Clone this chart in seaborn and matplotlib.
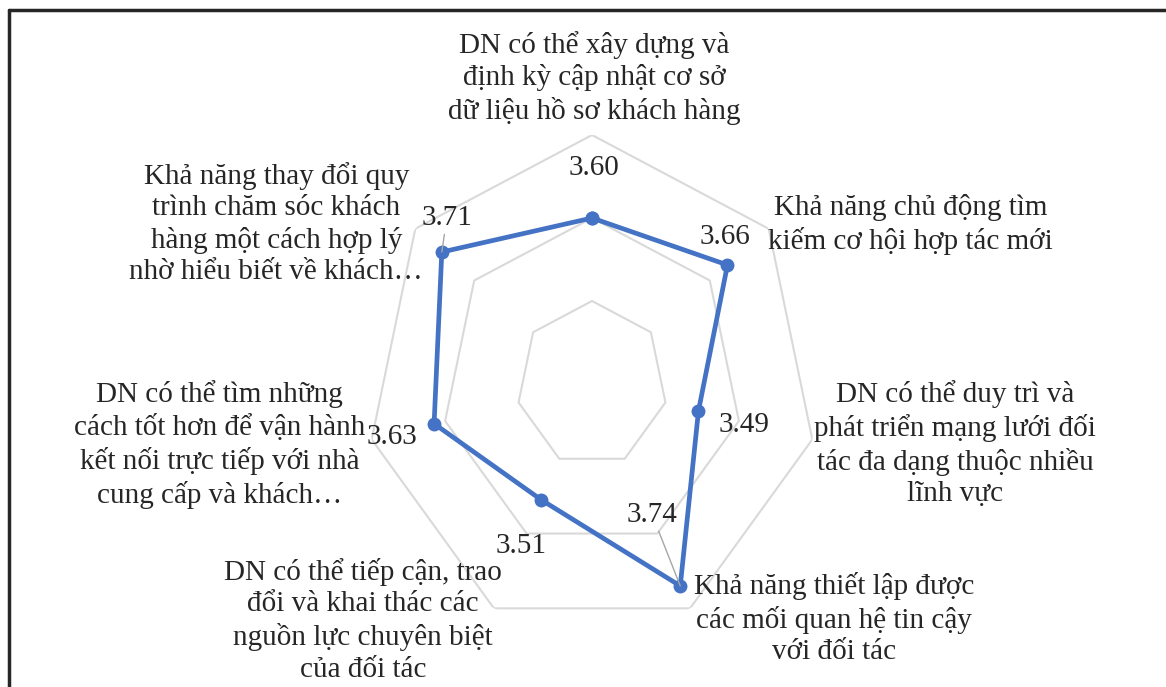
import numpy as np
import pandas as pd
import seaborn as sns
from matplotlib import pyplot as plt
from matplotlib.lines import Line2D

sns.set_theme(style="white")
plt.rcParams["font.family"] = ["Liberation Serif", "DejaVu Serif"]

categories = [
    "DN có thể xây dựng và\nđịnh kỳ cập nhật cơ sở\ndữ liệu hồ sơ khách hàng",
    "Khả năng chủ động tìm\nkiếm cơ hội hợp tác mới",
    "DN có thể duy trì và\nphát triển mạng lưới đối\ntác đa dạng thuộc nhiều\nlĩnh vực",
    "Khả năng thiết lập được\ncác mối quan hệ tin cậy\nvới đối tác",
    "DN có thể tiếp cận, trao\nđổi và khai thác các\nnguồn lực chuyên biệt\ncủa đối tác",
    "DN có thể tìm những\ncách tốt hơn để vận hành\nkết nối trực tiếp với nhà\ncung cấp và khách…",
    "Khả năng thay đổi quy\ntrình chăm sóc khách\nhàng một cách hợp lý\nnhờ hiểu biết về khách…",
]
values = [3.60, 3.66, 3.49, 3.74, 3.51, 3.63, 3.71]
grid_levels = [3.4, 3.6, 3.8]
r_min, r_max = 3.2, 3.8

# label offsets in pixels (dx, dy) from point / outer vertex
value_offsets = [(2, 50), (-3, 28), (46, -14), (-28, 71), (-20, -46), (-42, -13), (5, 34)]
cat_offsets = [(2, 57), (142, 4), (143, -4), (144, -10), (-131, -12), (-152, -5), (-139, 5)]

n = len(categories)
angles = np.arange(n) * 2 * np.pi / n
df = pd.DataFrame({"angle": np.append(angles, 2 * np.pi), "value": values + values[:1]})

fig = plt.figure(figsize=(11.66, 6.87), dpi=100)
ax = fig.add_axes([366 / 1166, 54 / 687, 452 / 1166, 498 / 687], projection="polar")
ax.set_aspect("auto")
ax.set_theta_zero_location("N")
ax.set_theta_direction(-1)
ax.set_ylim(r_min, r_max)
ax.grid(False)
ax.spines["polar"].set_visible(False)
ax.set_xticks([])
ax.set_yticks([])
ax.patch.set_alpha(0)

for lvl in grid_levels:
    ax.plot(df["angle"], [lvl] * (n + 1), color="#d9d9d9", lw=1.5, zorder=1)

sns.lineplot(data=df, x="angle", y="value", sort=False, color="#4472c4", lw=3.4,
             marker="o", markersize=10, markeredgewidth=0, ax=ax, zorder=3)
ax.set_xlabel("")
ax.set_ylabel("")
ax.set_ylim(r_min, r_max)

font_size = 21
for a, v, (dx, dy) in zip(angles, values, value_offsets):
    arrow = None
    if v in (3.74, 3.71):
        arrow = dict(arrowstyle="-", color="#a6a6a6", lw=1, shrinkA=0, shrinkB=0)
    ax.annotate(f"{v:.2f}", xy=(a, v), xytext=(dx, dy), textcoords="offset pixels",
                ha="center", va="center", fontsize=font_size, color="#262626",
                arrowprops=arrow, annotation_clip=False, zorder=4)

for a, lab, (dx, dy) in zip(angles, categories, cat_offsets):
    ax.annotate(lab, xy=(a, r_max), xytext=(dx, dy), textcoords="offset pixels",
                ha="center", va="center", multialignment="center",
                fontsize=font_size, color="#262626", linespacing=1.27,
                annotation_clip=False)

# frame (left and top edges of the cropped picture)
fig.add_artist(Line2D([9 / 1166, 9 / 1166], [0, 1 - 10 / 687], color="#262626", lw=2.5))
fig.add_artist(Line2D([9 / 1166, 1], [1 - 10 / 687, 1 - 10 / 687], color="#262626", lw=2.5))

fig.savefig("out.png", dpi=100)
